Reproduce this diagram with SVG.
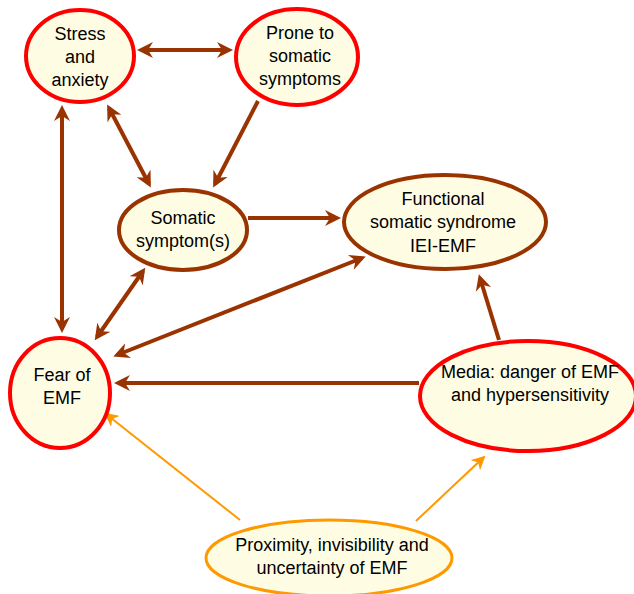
<svg xmlns="http://www.w3.org/2000/svg" width="634" height="594" viewBox="0 0 634 594">
<defs>
<style>
.n{fill:#FEFDE3}
.red{stroke:#FF0000;stroke-width:4}
.brn{stroke:#993300;stroke-width:4}
.org{stroke:#FF9900;stroke-width:3}
.t{font-family:"Liberation Sans",Arial,sans-serif;font-size:18px;fill:#000;text-anchor:middle}
.e{stroke:#993300;stroke-width:4;fill:none}
.eo{stroke:#FF9900;stroke-width:2;fill:none}
</style>
<marker id="ab" viewBox="0 0 16 16" refX="12" refY="8" markerWidth="16" markerHeight="16" markerUnits="userSpaceOnUse" orient="auto-start-reverse">
<path d="M0,0 L16,8 L0,16 L5,8 z" fill="#993300"/>
</marker>
<marker id="ao" viewBox="0 0 14 14" refX="12" refY="7" markerWidth="14" markerHeight="14" markerUnits="userSpaceOnUse" orient="auto">
<path d="M0,0 L14,7 L0,14 L4,7 z" fill="#FF9900"/>
</marker>
</defs>
<g id="connectors">
<line class="e" x1="141" y1="50" x2="229" y2="50" marker-start="url(#ab)" marker-end="url(#ab)"/>
<line class="e" x1="109" y1="108" x2="149" y2="184" marker-start="url(#ab)" marker-end="url(#ab)"/>
<line class="e" x1="258" y1="101" x2="215" y2="184" marker-end="url(#ab)"/>
<line class="e" x1="62" y1="109" x2="62" y2="329" marker-start="url(#ab)" marker-end="url(#ab)"/>
<line class="e" x1="248" y1="218" x2="337" y2="218" marker-end="url(#ab)"/>
<line class="e" x1="143" y1="271" x2="97" y2="337" marker-start="url(#ab)" marker-end="url(#ab)"/>
<line class="e" x1="117" y1="355" x2="362" y2="258" marker-start="url(#ab)" marker-end="url(#ab)"/>
<line class="e" x1="419" y1="383" x2="118" y2="383" marker-end="url(#ab)"/>
<line class="e" x1="499" y1="340" x2="480" y2="278" marker-end="url(#ab)"/>
<line class="eo" x1="240" y1="520" x2="106" y2="414" marker-end="url(#ao)"/>
<line class="eo" x1="416" y1="521" x2="484" y2="457" marker-end="url(#ao)"/>
</g>
<g id="stress">
<ellipse class="n red" cx="80" cy="56" rx="54" ry="46"/>
<text class="t" x="80" y="40">Stress</text>
<text class="t" x="80" y="63">and</text>
<text class="t" x="80" y="86">anxiety</text>
</g>
<g id="prone">
<ellipse class="n red" cx="297" cy="57" rx="61" ry="48"/>
<text class="t" x="300" y="39">Prone to</text>
<text class="t" x="300" y="62">somatic</text>
<text class="t" x="300" y="85">symptoms</text>
</g>
<g id="somatic">
<ellipse class="n brn" cx="183" cy="230" rx="64" ry="40"/>
<text class="t" x="183" y="224">Somatic</text>
<text class="t" x="183" y="247">symptom(s)</text>
</g>
<g id="functional">
<ellipse class="n brn" cx="445" cy="222" rx="101" ry="47"/>
<text class="t" x="443" y="205">Functional</text>
<text class="t" x="443" y="228">somatic syndrome</text>
<text class="t" x="443" y="252">IEI-EMF</text>
</g>
<g id="fear">
<ellipse class="n red" cx="60" cy="393" rx="50" ry="55"/>
<text class="t" x="62" y="381">Fear of</text>
<text class="t" x="62" y="404">EMF</text>
</g>
<g id="media">
<ellipse class="n red" cx="528" cy="396" rx="108" ry="55"/>
<text class="t" x="530" y="378">Media: danger of EMF</text>
<text class="t" x="530" y="401">and hypersensitivity</text>
</g>
<g id="proximity">
<ellipse class="n org" cx="329" cy="558" rx="123" ry="38"/>
<text class="t" x="332" y="551">Proximity, invisibility and</text>
<text class="t" x="332" y="574">uncertainty of EMF</text>
</g>
</svg>
